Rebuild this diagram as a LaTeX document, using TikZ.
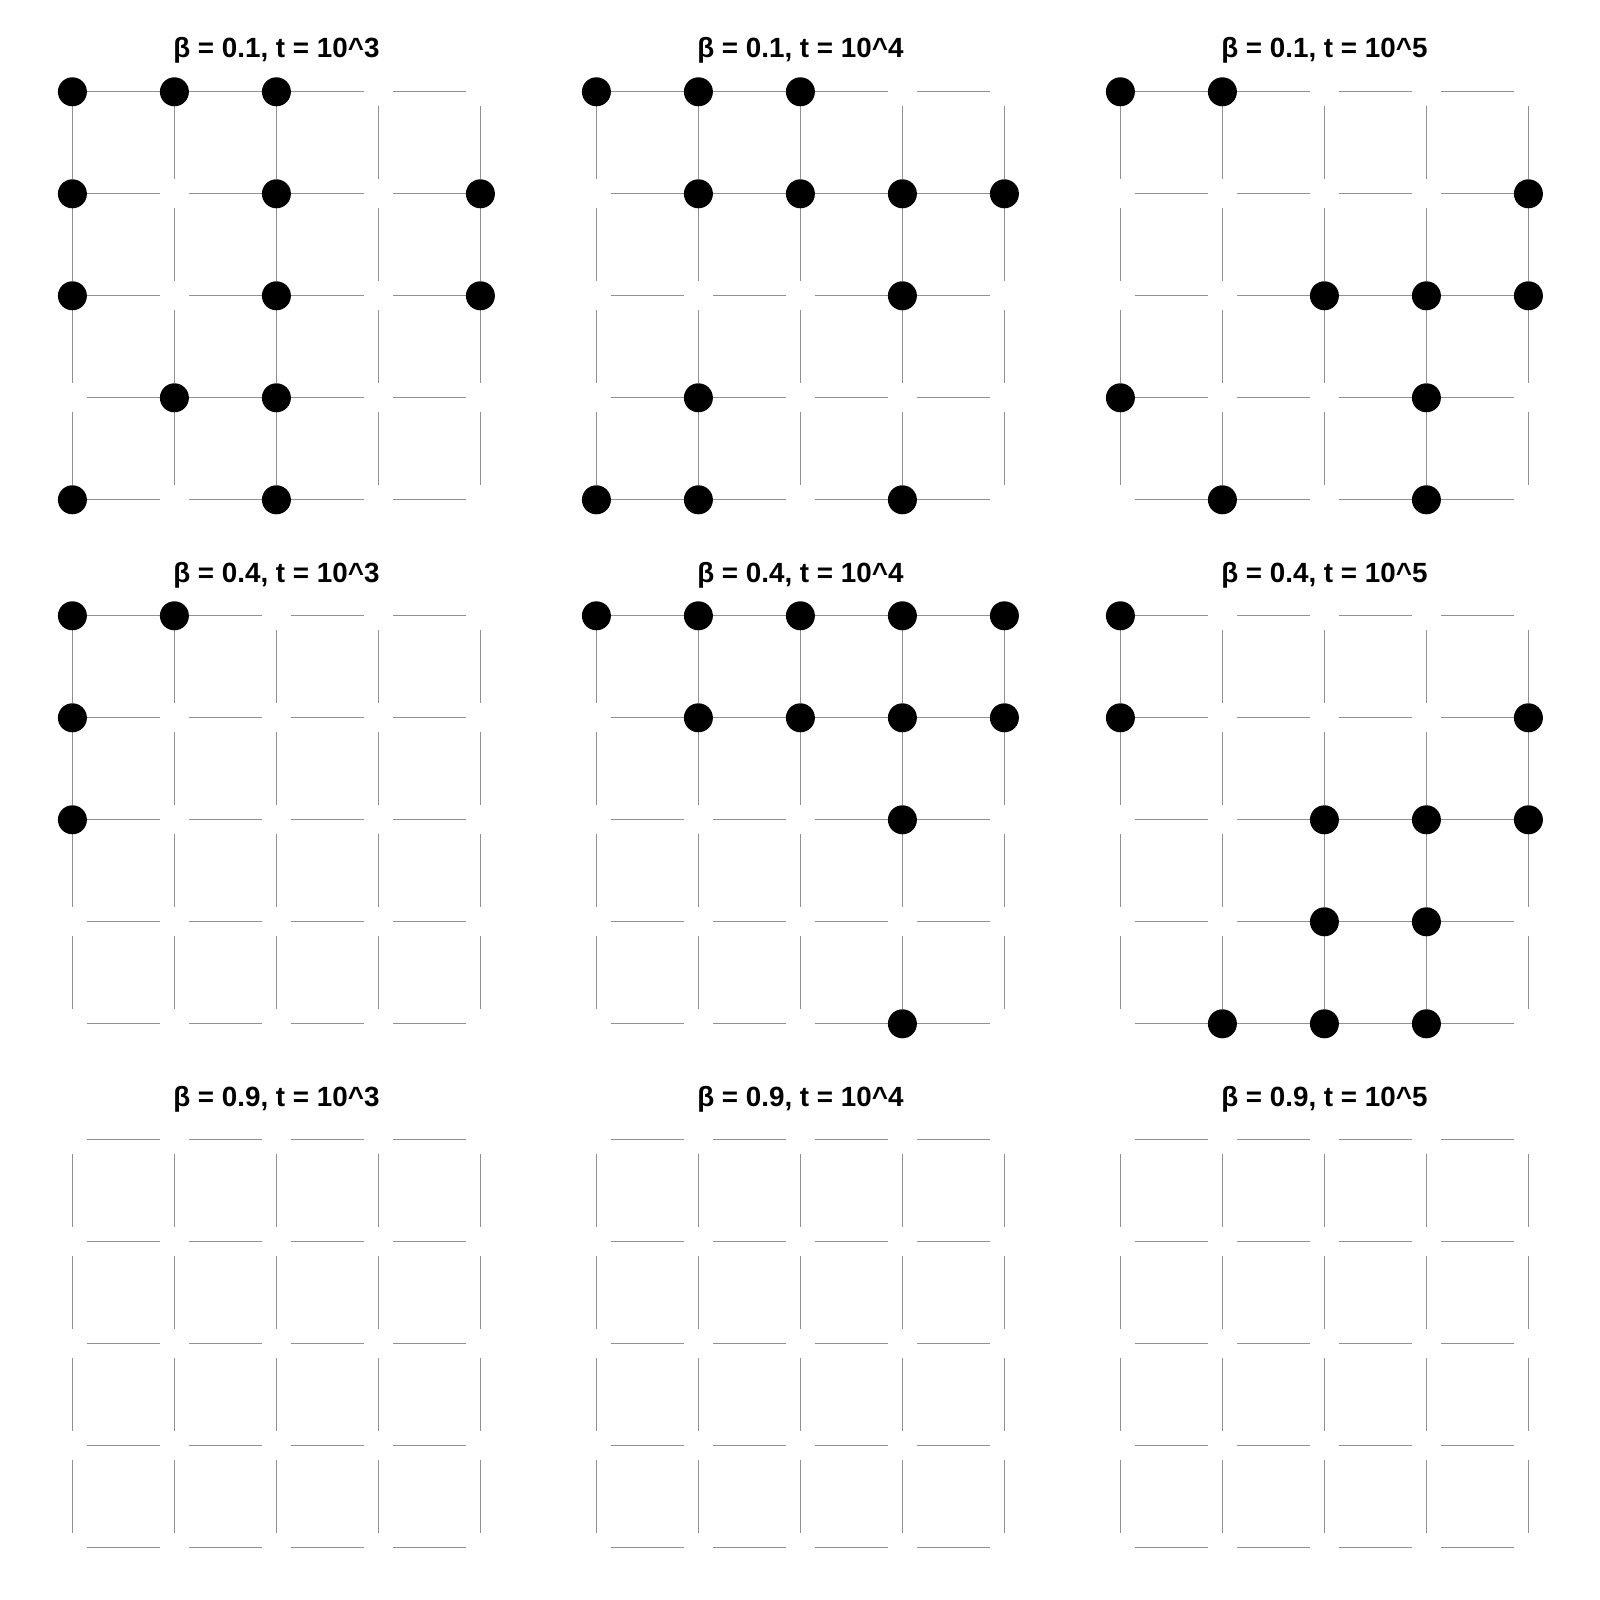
\documentclass[tikz,border=0pt]{standalone}
\usepackage{fontspec}
\setmainfont{Liberation Sans}
\definecolor{bondgray}{RGB}{145,145,145}
\begin{document}
\begin{tikzpicture}[x=1pt,y=-1pt,
  site/.style={circle,inner sep=0pt,outer sep=0pt,minimum size=29pt},
  occ/.style={circle,inner sep=0pt,outer sep=0pt,minimum size=29pt,fill=black},
  bond/.style={draw=bondgray,line width=1.2pt},
  ptitle/.style={font=\bfseries\fontsize{27.8}{32}\selectfont,anchor=base,inner sep=0pt}]
\useasboundingbox[fill=white] (0,0) rectangle (1600,1600);
% grid sites, bonds and titles
\foreach \r/\b in {0/0.1,1/0.4,2/0.9}{
  \foreach \c/\t in {0/3,1/4,2/5}{
    \pgfmathsetmacro\ox{72.4+524*\c}
    \pgfmathsetmacro\oy{91.8+524*\r}
    \foreach \i in {0,...,4}{
      \foreach \j in {0,...,4}{
        \node[site] (s\r\c-\i-\j) at ({\ox+102*\i},{\oy+102*\j}) {};
      }
    }
    \node[ptitle] (title\r\c) at ({\ox+204},{\oy-33.8}) {β = \b, t = 10\textasciicircum\t};
    \foreach \i in {0,...,3}{
      \pgfmathtruncatemacro\ii{\i+1}
      \foreach \j in {0,...,4}{
        \draw[bond] (s\r\c-\i-\j) -- (s\r\c-\ii-\j);
        \draw[bond] (s\r\c-\j-\i) -- (s\r\c-\j-\ii);
      }
    }
  }
}
% occupied sites
\foreach \r/\c/\occ in {
  0/0/{0/0,1/0,2/0,0/1,2/1,4/1,0/2,2/2,4/2,1/3,2/3,0/4,2/4},
  0/1/{0/0,1/0,2/0,1/1,2/1,3/1,4/1,3/2,1/3,0/4,1/4,3/4},
  0/2/{0/0,1/0,4/1,2/2,3/2,4/2,0/3,3/3,1/4,3/4},
  1/0/{0/0,1/0,0/1,0/2},
  1/1/{0/0,1/0,2/0,3/0,4/0,1/1,2/1,3/1,4/1,3/2,3/4},
  1/2/{0/0,0/1,4/1,2/2,3/2,4/2,2/3,3/3,1/4,2/4,3/4}}{
  \foreach \i/\j in \occ{
    \node[occ] (o\r\c-\i-\j) at (s\r\c-\i-\j) {};
  }
}
\end{tikzpicture}
\end{document}
